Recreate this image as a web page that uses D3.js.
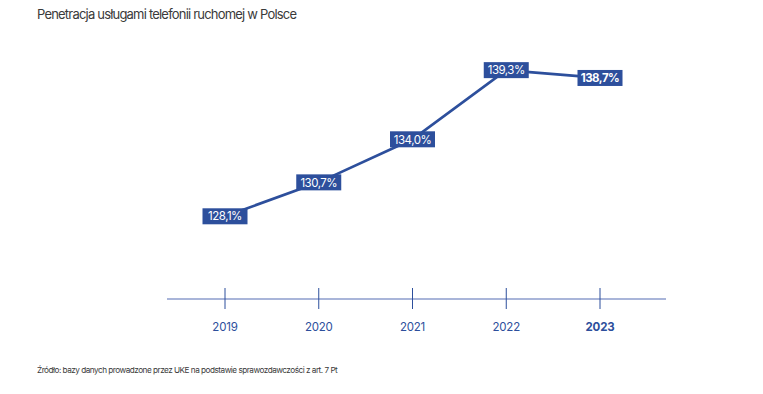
<!DOCTYPE html>
<html>
<head>
<meta charset="utf-8">
<script src="https://cdn.jsdelivr.net/npm/d3@7"></script>
<style>
  body { margin: 0; background: #fff; }
  svg { display: block; font-family: Inter, 'Noto Sans', sans-serif; }
</style>
</head>
<body>
<svg id="chart" width="763" height="394"></svg>
<script>
// data
let years = ['2019', '2020', '2021', '2022', '2023']
let values = [128.1, 130.7, 134.0, 139.3, 138.7]
let labels = ['128,1%', '130,7%', '134,0%', '139,3%', '138,7%']

let blue = '#2d4f9c',
    axisBlue = '#8d9dcd'

let svg = d3.select('#chart')

let x = d3.scalePoint()
  .domain(years)
  .range([225, 600])

let y = d3.scaleLinear()
  .domain([120, 140])
  .range([322, 61])

// title
svg.append('text')
  .attr('x', 37)
  .attr('y', 19)
  .attr('font-size', '13px')
  .attr('letter-spacing', '-0.8px')
  .attr('fill', '#3a3a3a')
  .text('Penetracja usługami telefonii ruchomej w Polsce')

// bottom axis with long ticks crossing the line
let axisY = 299
let axis = svg.append('g')
  .attr('transform', `translate(0,${axisY})`)

axis.append('line')
  .attr('x1', 167).attr('x2', 666)
  .attr('stroke', axisBlue)
  .attr('stroke-width', 1.5)

axis.call(g => g.selectAll('.tick')
  .data(years)
  .join('line')
  .attr('class', 'tick')
  .attr('x1', d => x(d)).attr('x2', d => x(d))
  .attr('y1', -11).attr('y2', 10)
  .attr('stroke', blue)
  .attr('stroke-width', 1))

axis.selectAll('.year')
  .data(years)
  .join('text')
  .attr('class', 'year')
  .attr('x', d => x(d))
  .attr('y', 32)
  .attr('text-anchor', 'middle')
  .attr('font-size', '11.5px')
  .attr('letter-spacing', '-0.2px')
  .attr('font-weight', (d, i) => i === years.length - 1 ? 700 : 400)
  .attr('fill', blue)
  .text(d => d)

// the line
let line = d3.line()
  .x((d, i) => x(years[i]))
  .y(d => y(d))

svg.append('path')
  .datum(values)
  .attr('d', line)
  .attr('fill', 'none')
  .attr('stroke', blue)
  .attr('stroke-width', 2.7)

// value boxes
let boxes = svg.selectAll('.box')
  .data(values)
  .join('g')
  .attr('class', 'box')
  .attr('transform', (d, i) => `translate(${x(years[i])},${y(d)})`)

boxes.append('rect')
  .attr('x', -22.5).attr('y', -8)
  .attr('width', 45).attr('height', 16)
  .attr('fill', blue)

boxes.append('text')
  .attr('y', 4.2)
  .attr('text-anchor', 'middle')
  .attr('font-size', '11.5px')
  .attr('letter-spacing', '-0.5px')
  .attr('font-weight', (d, i) => i === values.length - 1 ? 700 : 400)
  .attr('fill', '#fff')
  .text((d, i) => labels[i])

// source note
svg.append('text')
  .attr('x', 37)
  .attr('y', 373)
  .attr('font-size', '8.2px')
  .attr('letter-spacing', '-0.5px')
  .attr('fill', '#3a3a3a')
  .text('Źródło: bazy danych prowadzone przez UKE na podstawie sprawozdawczości z art. 7 Pt')
</script>
</body>
</html>
